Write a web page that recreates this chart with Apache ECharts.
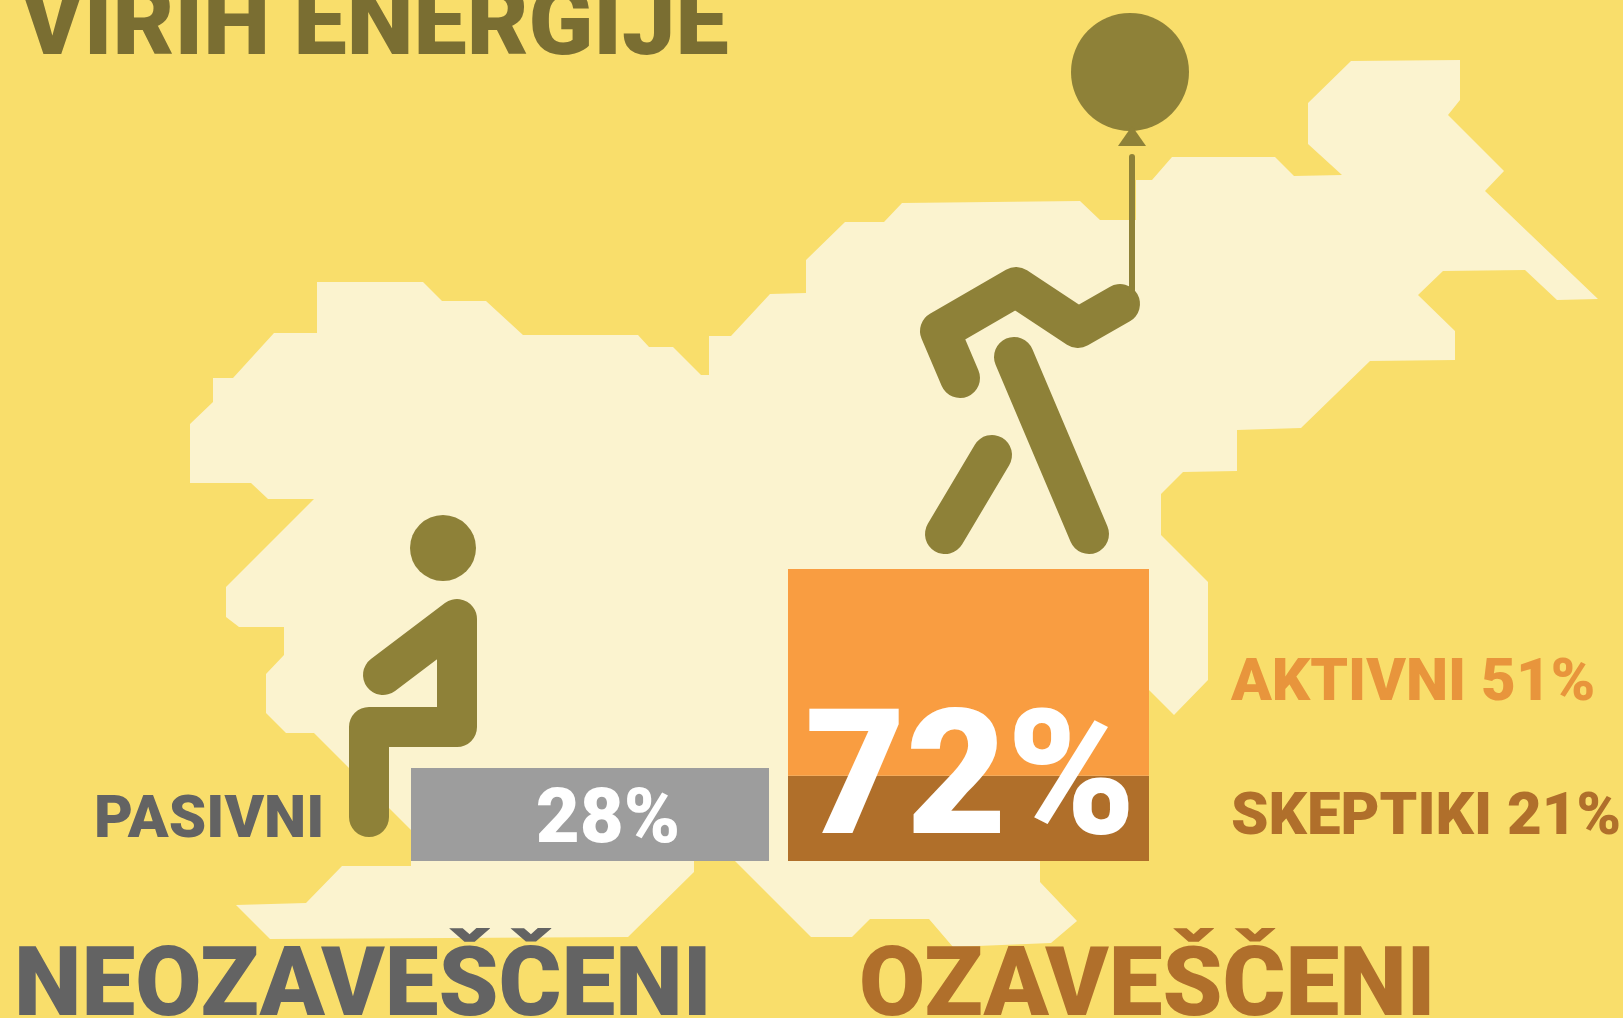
<!DOCTYPE html>
<html>
<head>
<meta charset="utf-8">
<title>Ozaveščenost o virih energije</title>
<script src="https://cdn.jsdelivr.net/npm/echarts@6/dist/echarts.min.js"></script>
<style>
    html, body { margin: 0; padding: 0; background: #F9DE6B; overflow: hidden; }
    #main { width: 1623px; height: 1018px; }
</style>
</head>
<body>
<div id="main"></div>
<script>
// podatki
var naslov = 'VIRIH ENERGIJE';
var skupine = ['NEOZAVEŠČENI', 'OZAVEŠČENI'];
var pasivni = [28];
var aktivni = [51];
var skeptiki = [21];

var FONT = 'Roboto';
var BG = '#F9DE6B', MAP = '#FBF3CF', FIG = '#8E8138';
var GREY = '#9D9D9D', ORANGE = '#F99D41', BROWN = '#B06F2A';

// obris Slovenije, samo ozadje
var obris = [
    [317,282],[423,282],[442,301],[486,301],[523,335],[638,335],[649,347],[673,347],[701,375],[709,375],
    [709,336],[731,336],[770,294],[806,293],[806,260],[845,222],[884,222],[902,203],[1080,201],[1100,220],
    [1136,220],[1136,180],[1152,180],[1172,157],[1275,157],[1294,176],[1342,175],[1308,144],[1308,103],
    [1351,61],[1460,60],[1460,100],[1448,115],[1504,171],[1485,191],[1598,299],[1557,300],[1525,270],
    [1443,271],[1418,295],[1455,331],[1455,360],[1370,361],[1301,428],[1237,430],[1237,471],[1183,472],
    [1161,494],[1161,535],[1208,582],[1208,680],[1174,715],[1149,690],[1149,861],[1040,861],[1040,882],
    [1077,921],[1051,943],[953,947],[929,919],[870,919],[852,937],[811,937],[735,861],[694,861],[694,872],
    [628,937],[270,939],[236,905],[306,903],[342,866],[411,866],[411,830],[314,733],[286,733],[266,713],
    [266,674],[284,655],[284,627],[239,627],[226,617],[226,587],[314,499],[268,499],[251,483],[190,483],
    [190,424],[213,402],[213,378],[233,378],[274,333],[317,333]
];

function napis(text, x, y, size, color) {
    return {
        type: 'text', x: x, y: y, z: 10,
        style: { text: text, fill: color, fontFamily: FONT, fontWeight: 900, fontSize: size, textVerticalAlign: 'middle' }
    };
}

function figura(points, width) {
    return {
        type: 'polyline', z: 5,
        shape: { points: points },
        style: { stroke: FIG, lineWidth: width, fill: null, lineCap: 'round', lineJoin: 'round' }
    };
}

var myChart = echarts.init(document.getElementById('main'));

var option = {
    backgroundColor: BG,
    animation: false,
    grid: [
        { left: 411, top: 768, width: 358, height: 93 },
        { left: 788, top: 569, width: 361, height: 292 }
    ],
    xAxis: [
        { type: 'category', gridIndex: 0, data: [skupine[0]], show: false },
        { type: 'category', gridIndex: 1, data: [skupine[1]], show: false }
    ],
    yAxis: [
        { type: 'value', gridIndex: 0, min: 0, max: 28, show: false },
        { type: 'value', gridIndex: 1, min: 0, max: 72, show: false }
    ],
    series: [
        {
            name: 'PASIVNI', type: 'bar', xAxisIndex: 0, yAxisIndex: 0, barWidth: '100%',
            data: pasivni,
            itemStyle: { color: GREY },
            label: {
                show: true, position: 'inside', offset: [18, 8], formatter: '{c}%',
                color: '#fff', fontFamily: FONT, fontWeight: 900, fontSize: 76
            }
        },
        {
            name: 'SKEPTIKI', type: 'bar', stack: 'ozavesceni', xAxisIndex: 1, yAxisIndex: 1, barWidth: '100%',
            data: skeptiki,
            itemStyle: { color: BROWN }
        },
        {
            name: 'AKTIVNI', type: 'bar', stack: 'ozavesceni', xAxisIndex: 1, yAxisIndex: 1, barWidth: '100%',
            data: aktivni,
            itemStyle: { color: ORANGE },
            label: {
                show: true, position: 'inside', offset: [2, 117],
                formatter: function () { return (aktivni[0] + skeptiki[0]) + '%'; },
                color: '#fff', fontFamily: FONT, fontWeight: 900, fontSize: 174
            }
        }
    ],
    graphic: { elements: [
        { type: 'polygon', z: -1, shape: { points: obris }, style: { fill: MAP } },

        // sedeca postava
        { type: 'circle', z: 5, shape: { cx: 443, cy: 548, r: 33 }, style: { fill: FIG } },
        figura([[383,675],[457,619],[457,727],[369,727],[369,817]], 40),

        // postava z balonom
        figura([[960,378],[940,331],[1016,287],[1078,328],[1120,304]], 40),
        figura([[1014,357],[1089,534]], 40),
        figura([[992,455],[945,534]], 40),
        { type: 'circle', z: 5, shape: { cx: 1130, cy: 72, r: 59 }, style: { fill: FIG } },
        { type: 'polygon', z: 5, shape: { points: [[1118,146],[1146,146],[1132,126]] }, style: { fill: FIG } },
        { type: 'line', z: 5, shape: { x1: 1132, y1: 157, x2: 1132, y2: 290 }, style: { stroke: FIG, lineWidth: 6, lineCap: 'round' } },

        // napisi
        napis(naslov, 21, 30, 95, '#7A6E32'),
        napis('PASIVNI', 94, 822, 60, '#636363'),
        napis('AKTIVNI ' + aktivni[0] + '%', 1231, 685, 60, '#E8953C'),
        napis('SKEPTIKI ' + skeptiki[0] + '%', 1231, 819, 60, '#B06F2B'),
        napis(skupine[0], 14, 991, 96, '#636363'),
        napis(skupine[1], 859, 991, 96, '#B06F2B')
    ] }
};

myChart.setOption(option);
</script>
</body>
</html>
